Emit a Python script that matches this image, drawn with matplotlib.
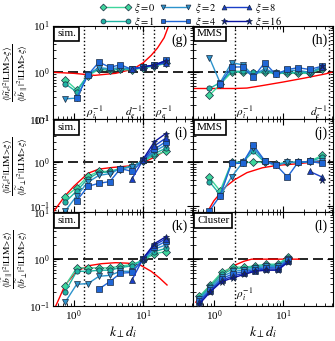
import numpy as np
import matplotlib
matplotlib.use('Agg')
import matplotlib.pyplot as plt
from matplotlib.lines import Line2D

plt.rcParams['font.family'] = ['Liberation Serif', 'DejaVu Serif']
plt.rcParams['mathtext.fontset'] = 'stix'

# dados
xis = [0, 1, 2, 4, 8, 16]
cores = ['#3fd69c', '#1fb3a3', '#2c93cc', '#1f66d6', '#1a3fc8', '#0a14a0']
marcadores = ['D', 'o', 'v', 's', '^', '*']
nan = np.nan

k_sim = [0.75, 1.1, 1.6, 2.3, 3.3, 4.7, 6.9, 10, 14.5, 21]
k_mms = [0.86, 1.23, 1.8, 2.6, 3.7, 5.4, 7.8, 11.5, 16.3, 24, 36]
k_cluster = [0.62, 0.89, 1.29, 1.9, 2.73, 3.89, 5.6, 8.3, 11.7]

# (g) sim. n_e / b_par
g_vals = [
    [0.70, 0.42, 0.85, 1.15, 1.10, 1.15, 1.12, 1.25, 1.35, 1.55],
    [0.57, 0.38, 0.90, 1.20, 1.15, 1.20, 1.15, 1.28, 1.38, 1.65],
    [0.27, 0.28, 0.92, 1.25, 1.20, 1.25, 1.18, 1.30, 1.40, 1.70],
    [nan, 0.28, 0.88, 1.65, 1.28, 1.45, 1.15, 1.30, 1.42, 1.80],
    [nan, nan, nan, nan, nan, nan, 1.20, 1.30, 1.40, 1.60],
    [nan, nan, nan, nan, nan, nan, nan, 1.30, 1.45, 1.75],
]
# (h) MMS n_e / b_par
h_vals = [
    [0.32, 0.55, 1.00, 1.00, 0.95, 1.00, 0.95, 0.95, 0.95, 0.95, 1.20],
    [0.45, 0.60, 1.05, 1.05, 1.00, 1.05, 0.95, 1.00, 1.00, 0.98, 1.25],
    [2.07, 0.60, 1.60, 1.45, 0.85, 1.20, 0.95, 1.10, 1.10, 1.00, 1.30],
    [nan, 0.55, 1.30, 1.30, 0.78, 1.60, 0.90, 1.15, 1.25, 1.15, 1.35],
    [nan, nan, nan, nan, nan, nan, nan, nan, nan, nan, 1.30],
    [nan, nan, nan, nan, nan, nan, nan, nan, nan, nan, 1.35],
]
# (i) sim. n_e / b_perp
i_vals = [
    [0.16, 0.26, 0.48, 0.62, 0.62, 0.72, 0.82, 1.05, 1.45, 1.80],
    [0.12, 0.22, 0.42, 0.58, 0.60, 0.72, 0.80, 1.08, 1.60, 2.10],
    [0.075, 0.17, 0.35, 0.50, 0.55, 0.72, 0.78, 1.10, 1.80, 2.50],
    [nan, 0.13, 0.28, 0.33, 0.36, 0.72, 0.62, 1.12, 2.00, 3.00],
    [nan, nan, nan, nan, nan, nan, 0.42, 1.15, 2.40, 3.60],
    [nan, nan, nan, nan, nan, nan, nan, 1.20, 3.00, 4.60],
]
# (j) MMS n_e / b_perp
j_vals = [
    [0.45, 0.22, 1.00, 1.00, 1.00, 1.00, 0.90, 1.00, 1.00, 1.05, 1.45],
    [0.36, 0.18, 1.00, 1.00, 1.80, 1.00, 0.90, 1.00, 1.00, 1.05, 1.30],
    [nan, 0.17, 0.46, 1.00, 2.15, 1.05, 0.85, 1.00, 1.00, 1.05, 1.10],
    [0.075, 0.17, 0.95, 0.95, 2.50, 1.10, 0.88, 0.46, 1.00, 1.05, 0.95],
    [nan, nan, nan, nan, nan, nan, nan, nan, nan, 0.62, 0.46],
    [nan, nan, nan, nan, nan, nan, nan, nan, nan, nan, 0.40],
]
# (k) sim. b_par / b_perp
k_vals = [
    [0.27, 0.65, 0.65, 0.65, 0.65, 0.71, 0.77, 0.95, 1.30, 1.45],
    [0.20, 0.55, 0.55, 0.58, 0.58, 0.66, 0.72, 0.97, 1.45, 1.70],
    [0.12, 0.29, 0.30, 0.43, 0.45, 0.55, 0.55, 1.00, 1.65, 2.00],
    [nan, nan, nan, 0.23, 0.33, 0.50, 0.52, 1.02, 1.80, 2.40],
    [nan, nan, nan, nan, nan, nan, 0.36, 1.05, 2.00, 2.70],
    [nan, nan, nan, nan, nan, nan, nan, 1.05, 2.15, 3.00],
]
# (l) Cluster
l_vals = [
    [0.16, 0.28, 0.52, 0.68, 0.67, 0.72, 0.78, 0.78, 1.10],
    [0.15, 0.26, 0.47, 0.62, 0.63, 0.68, 0.74, 0.74, 1.05],
    [0.14, 0.24, 0.42, 0.55, 0.58, 0.64, 0.70, 0.70, 1.00],
    [0.13, 0.22, 0.38, 0.49, 0.54, 0.60, 0.66, 0.65, 0.95],
    [0.12, 0.21, 0.35, 0.44, 0.50, 0.57, 0.62, 0.61, 0.90],
    [0.11, 0.20, 0.33, 0.40, 0.47, 0.55, 0.58, 0.58, 0.86],
]

# curvas vermelhas (modelo)
g_red_k = [0.5, 1, 2, 4, 6, 8, 10, 13, 16, 20, 23]
g_red_v = [1.0, 0.95, 0.86, 0.95, 1.1, 1.3, 1.6, 2.3, 3.3, 5.5, 9.5]
h_red_k = [0.5, 1, 2, 3, 5, 10, 20, 40, 50]
h_red_v = [0.45, 0.45, 0.45, 0.46, 0.52, 0.62, 0.75, 0.92, 1.0]
i_red_k = [0.5, 0.75, 1, 1.6, 2.3, 3.5, 5, 7, 10, 15, 21]
i_red_v = [0.07, 0.17, 0.28, 0.56, 0.70, 0.76, 0.8, 0.84, 1.0, 1.35, 1.9]
j_red_k = [0.8, 1, 1.5, 2, 3, 5, 8, 15, 25, 40]
j_red_v = [0.07, 0.13, 0.28, 0.40, 0.58, 0.75, 0.85, 0.92, 1.0, 1.1]
k_red_k = [0.55, 0.75, 1.1, 1.6, 2.5, 4, 6, 9, 13, 17, 22]
k_red_v = [0.1, 0.28, 0.55, 0.72, 0.8, 0.84, 0.82, 0.75, 0.55, 0.4, 0.28]
l_red_k = [0.55, 0.62, 0.89, 1.3, 1.9, 2.7, 3.5, 5, 10, 17]
l_red_v = [0.12, 0.15, 0.28, 0.48, 0.72, 0.9, 1.0, 1.0, 1.0, 1.0]

# escalas características
sim_linhas = [1.41, 10, 14.1]
mms_linhas = [2.0, 45]
cluster_linhas = [2.0]

paineis = [
    (k_sim, g_vals, g_red_k, g_red_v, 'sim.', '(g)', sim_linhas),
    (k_mms, h_vals, h_red_k, h_red_v, 'MMS', '(h)', mms_linhas),
    (k_sim, i_vals, i_red_k, i_red_v, 'sim.', '(i)', sim_linhas),
    (k_mms, j_vals, j_red_k, j_red_v, 'MMS', '(j)', mms_linhas),
    (k_sim, k_vals, k_red_k, k_red_v, 'sim.', '(k)', sim_linhas),
    (k_cluster, l_vals, l_red_k, l_red_v, 'Cluster', '(l)', cluster_linhas),
]

ylabels = [
    r'$\dfrac{\langle|\widetilde{n}_e|^2|\mathrm{LIM}\!>\!\xi\rangle}{\langle|\widetilde{b}_\parallel|^2|\mathrm{LIM}\!>\!\xi\rangle}$',
    r'$\dfrac{\langle|\widetilde{n}_e|^2|\mathrm{LIM}\!>\!\xi\rangle}{\langle|\widetilde{b}_\perp|^2|\mathrm{LIM}\!>\!\xi\rangle}$',
    r'$\dfrac{\langle|\widetilde{b}_\parallel|^2|\mathrm{LIM}\!>\!\xi\rangle}{\langle|\widetilde{b}_\perp|^2|\mathrm{LIM}\!>\!\xi\rangle}$',
]

fig, axs = plt.subplots(3, 2, figsize=(3.35, 3.41), dpi=100, sharex=True)
fig.subplots_adjust(left=0.158, right=0.994, top=0.925, bottom=0.103, hspace=0, wspace=0)

for n, (kk, vals, rk, rv, fonte, tag, linhas) in enumerate(paineis):
    ax = axs[n // 2, n % 2]
    ax.set_xscale('log')
    ax.set_yscale('log')
    ax.set_xlim(0.5, 52)
    ax.set_ylim(0.07 if n // 2 == 1 else 0.1, 10)

    for x in linhas:
        ax.axvline(x, color='k', ls=':', lw=1)
    ax.axhline(1, color='k', ls=(0, (6, 3)), lw=1.2, zorder=1)
    ax.plot(rk, rv, color='red', lw=1, zorder=2)

    for s in range(len(xis)):
        ax.plot(kk, vals[s], color=cores[s], marker=marcadores[s], ms=3.8 if s < 5 else 5,
                mec='#1a2a40', mew=0.5, lw=1, zorder=3 + s)

    ax.text(0.03, 0.96, fonte, transform=ax.transAxes, fontsize=8, va='top', ha='left',
            bbox=dict(boxstyle='square,pad=0.25', fc='white', ec='k', lw=1.2), zorder=20)
    ax.text(0.96, 0.92, tag, transform=ax.transAxes, fontsize=10, va='top', ha='right', zorder=20)

    ax.tick_params(which='both', direction='in', top=True, right=True, labelsize=8)
    ax.tick_params(which='major', length=4, pad=2)
    ax.tick_params(which='minor', length=2)
    if n % 2 == 1:
        ax.tick_params(labelleft=False)
    else:
        ax.set_ylabel(ylabels[n // 2], fontsize=6.8)
        ax.yaxis.set_label_coords(-0.165, 0.5)
    if n // 2 == 2:
        ax.set_xlabel(r'$k_\perp d_i$', fontsize=10, labelpad=1)

# rótulos das escalas
axs[0, 0].text(1.48, 0.115, r'$\rho_i^{-1}$', fontsize=8)
axs[0, 0].text(9.6, 0.115, r'$d_e^{-1}$', fontsize=8, ha='right')
axs[0, 0].text(14.8, 0.115, r'$\rho_e^{-1}$', fontsize=8)
axs[0, 1].text(2.1, 0.115, r'$\rho_i^{-1}$', fontsize=8)
axs[0, 1].text(43, 0.115, r'$d_e^{-1}$', fontsize=8, ha='right')
axs[2, 1].text(2.1, 0.15, r'$\rho_i^{-1}$', fontsize=8)

# legenda
handles = []
for s in range(len(xis)):
    handles.append(Line2D([], [], color=cores[s], marker=marcadores[s], ms=3.5 if s < 5 else 4.5,
                          mec='#1a2a40', mew=0.5, lw=1))
fig.legend(handles, [r'$\xi = %d$' % x for x in xis], ncol=3, loc='upper center',
           bbox_to_anchor=(0.57, 1.0), frameon=False, fontsize=7.5, numpoints=2,
           handlelength=3.0, columnspacing=0.4, handletextpad=0.3, labelspacing=0.0,
           borderaxespad=0.0, borderpad=0.1)

plt.savefig('out.png', dpi=100)
